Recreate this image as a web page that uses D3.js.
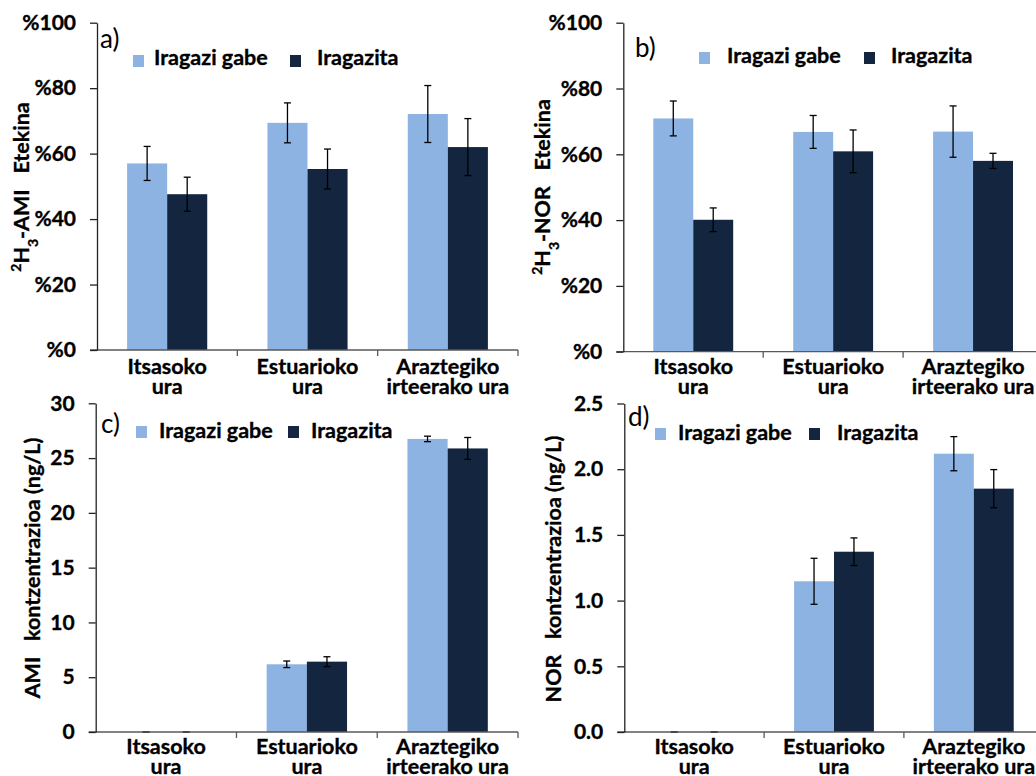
<!DOCTYPE html>
<html>
<head>
<meta charset="utf-8">
<script src="https://cdn.jsdelivr.net/npm/d3@7"></script>
<style>
  html, body { margin: 0; padding: 0; background: #fff; }
  svg { display: block; overflow: hidden; }
  text { font-family: Lato, "Open Sans", sans-serif; white-space: pre; }
  text.bold { font-weight: bold; stroke: #000; stroke-width: 0.35px; }
</style>
</head>
<body>
<svg id="chart" width="1036" height="776"></svg>
<script>
// Sampling sites (two-line labels) and sample treatments
const categories = ["Itsasoko ura", "Estuarioko ura", "Araztegiko irteerako ura"];
const categoryLines = [["Itsasoko", "ura"], ["Estuarioko", "ura"], ["Araztegiko", "irteerako ura"]];
const series = ["Iragazi gabe", "Iragazita"];

// a) 2H3-AMI recovery (%), mean and error
const amiYieldUnfiltered = [57.0, 69.4, 72.1];
const amiYieldUnfilteredErr = [5.2, 6.1, 8.7];
const amiYieldFiltered = [47.6, 55.3, 62.0];
const amiYieldFilteredErr = [5.2, 6.1, 8.7];

// b) 2H3-NOR recovery (%)
const norYieldUnfiltered = [70.9, 66.8, 66.9];
const norYieldUnfilteredErr = [5.3, 5.0, 7.8];
const norYieldFiltered = [40.1, 60.9, 58.0];
const norYieldFilteredErr = [3.6, 6.5, 2.3];

// c) AMI concentration (ng/L)
const amiConcUnfiltered = [0, 6.18, 26.75];
const amiConcUnfilteredErr = [0, 0.3, 0.25];
const amiConcFiltered = [0, 6.42, 25.88];
const amiConcFilteredErr = [0, 0.45, 1.0];

// d) NOR concentration (ng/L)
const norConcUnfiltered = [0, 1.147, 2.118];
const norConcUnfilteredErr = [0, 0.175, 0.13];
const norConcFiltered = [0, 1.372, 1.852];
const norConcFilteredErr = [0, 0.105, 0.145];

// Axis tick values
const percentTicks = [0, 20, 40, 60, 80, 100];
const amiConcTicks = [0, 5, 10, 15, 20, 25, 30];
const norConcTicks = [0, 0.5, 1.0, 1.5, 2.0, 2.5];

const colors = { "Iragazi gabe": "#8db3e2", "Iragazita": "#13253f" };
const FONT = 21.5;
const TICK_FONT = 21;

const svg = d3.select("#chart");

const panels = [
  {
    letter: "a)", left: 97, right: 518, top: 22.7, bottom: 350, max: 100,
    ticks: percentTicks, fmt: v => "%" + v,
    values: [amiYieldUnfiltered, amiYieldFiltered], errors: [amiYieldUnfilteredErr, amiYieldFilteredErr],
    title: [["2", "super"], ["H", null], ["3", "sub"], ["-AMI   Etekina", null]],
    titleX: 29, titleY: 187,
    letterPos: [100, 48],
    legend: { y: 55, baseline: 65, sq: [133, 290], txt: [154, 317] },
    catBase: 24
  },
  {
    letter: "b)", left: 623.3, right: 1043, top: 22.7, bottom: 351.7, max: 100,
    ticks: percentTicks, fmt: v => "%" + v,
    values: [norYieldUnfiltered, norYieldFiltered], errors: [norYieldUnfilteredErr, norYieldFilteredErr],
    title: [["2", "super"], ["H", null], ["3", "sub"], ["-NOR   Etekina", null]],
    titleX: 550, titleY: 187,
    letterPos: [635, 57],
    legend: { y: 52, baseline: 63, sq: [699, 864], txt: [727, 891] },
    catBase: 22.5
  },
  {
    letter: "c)", left: 95.7, right: 518, top: 403.3, bottom: 732, max: 30,
    ticks: amiConcTicks, fmt: d3.format("d"),
    values: [amiConcUnfiltered, amiConcFiltered], errors: [amiConcUnfilteredErr, amiConcFilteredErr],
    title: [["AMI   kontzentrazioa (ng/L)", null]],
    titleX: 40, titleY: 568,
    letterPos: [101, 433],
    legend: { y: 426, baseline: 438, sq: [136, 288], txt: [159, 311] },
    catBase: 22
  },
  {
    letter: "d)", left: 624.3, right: 1043.7, top: 403.5, bottom: 732, max: 2.5,
    ticks: norConcTicks, fmt: d3.format(".1f"),
    values: [norConcUnfiltered, norConcFiltered], errors: [norConcUnfilteredErr, norConcFilteredErr],
    title: [["NOR   kontzentrazioa (ng/L)", null]],
    titleX: 561, titleY: 569,
    letterPos: [628, 426],
    legend: { y: 428, baseline: 440, sq: [655, 809], txt: [678, 837] },
    catBase: 22
  }
];

function drawPanel(p) {
  const g = svg.append("g");
  const x = d3.scaleBand().domain(d3.range(categories.length)).range([p.left, p.right]);
  const y = d3.scaleLinear().domain([0, p.max]).range([p.bottom, p.top]);
  const groupW = x.bandwidth() * 0.571;
  const xs = d3.scaleBand().domain(series).range([0, groupW]);
  const offset = (x.bandwidth() - groupW) / 2;

  // bars
  series.forEach((s, si) => {
    const rows = p.values[si].map((v, i) => ({ i, v, e: p.errors[si][i] }));
    g.append("g").selectAll("rect").data(rows).join("rect")
      .attr("x", d => x(d.i) + offset + xs(s))
      .attr("y", d => y(d.v))
      .attr("width", xs.bandwidth())
      .attr("height", d => y(0) - y(d.v))
      .attr("fill", colors[s]);

    // error bars
    const eb = g.append("g").attr("stroke", "#000").attr("stroke-width", 1.3);
    rows.forEach(d => {
      const cx = x(d.i) + offset + xs(s) + xs.bandwidth() / 2;
      const y1 = y(d.v + d.e), y2 = y(d.v - d.e);
      eb.append("line").attr("x1", cx).attr("x2", cx).attr("y1", y1).attr("y2", y2);
      eb.append("line").attr("x1", cx - 3.5).attr("x2", cx + 3.5).attr("y1", y1).attr("y2", y1);
      eb.append("line").attr("x1", cx - 3.5).attr("x2", cx + 3.5).attr("y1", y2).attr("y2", y2);
    });
  });

  // x axis with separators at band edges
  const xa = g.append("g").attr("stroke", "#595959").attr("stroke-width", 1.3);
  xa.append("line").attr("x1", p.left - 7).attr("x2", p.right).attr("y1", y(0)).attr("y2", y(0));
  categories.forEach((c, i) => {
    const bx = x(i) + x.bandwidth();
    xa.append("line").attr("x1", bx).attr("x2", bx).attr("y1", y(0)).attr("y2", y(0) + 6);
  });

  // y axis
  const ya = g.append("g").attr("transform", `translate(${p.left},0)`)
    .call(d3.axisLeft(y).tickValues(p.ticks).tickFormat(p.fmt).tickSize(7).tickSizeOuter(0).tickPadding(14));
  ya.select(".domain").attr("stroke", "#222").attr("stroke-width", 1.3);
  ya.selectAll(".tick line").attr("stroke", "#222").attr("stroke-width", 1.3);
  ya.selectAll(".tick text").attr("class", "bold").attr("font-size", TICK_FONT)
    .attr("font-family", "Lato, sans-serif").attr("fill", "#000");

  // category labels
  categoryLines.forEach((lines, i) => {
    const t = g.append("text").attr("class", "bold").attr("text-anchor", "middle")
      .attr("font-size", FONT).attr("fill", "#000");
    lines.forEach((ln, k) => {
      t.append("tspan").attr("x", x(i) + x.bandwidth() / 2)
        .attr("y", y(0) + p.catBase + k * 20).text(ln);
    });
  });

  // y title
  const tt = g.append("text").attr("class", "bold")
    .attr("transform", `translate(${p.titleX},${p.titleY}) rotate(-90)`)
    .attr("text-anchor", "middle").attr("font-size", FONT).attr("fill", "#000");
  p.title.forEach(([s, shift]) => {
    const ts = tt.append("tspan").text(s);
    if (shift) ts.attr("baseline-shift", shift).attr("font-size", FONT * 0.65);
  });

  // panel letter
  g.append("text").attr("x", p.letterPos[0]).attr("y", p.letterPos[1])
    .attr("font-size", 26).attr("fill", "#000").text(p.letter);

  // legend
  series.forEach((s, si) => {
    g.append("rect").attr("x", p.legend.sq[si]).attr("y", p.legend.y)
      .attr("width", 11).attr("height", 12).attr("fill", colors[s]);
    g.append("text").attr("class", "bold").attr("x", p.legend.txt[si]).attr("y", p.legend.baseline)
      .attr("font-size", FONT).attr("fill", "#000").text(s);
  });
}

panels.forEach(drawPanel);
</script>
</body>
</html>
